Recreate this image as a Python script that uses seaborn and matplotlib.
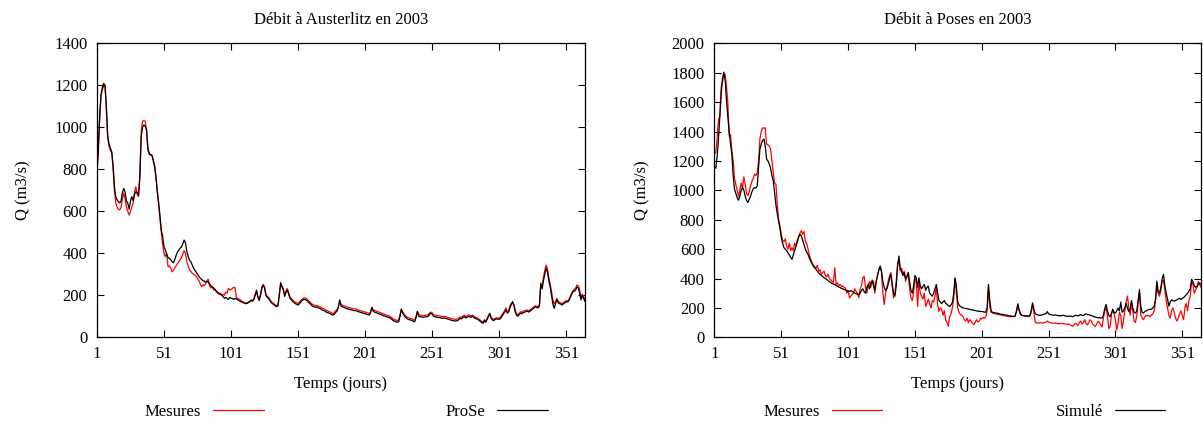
import numpy as np
import matplotlib
matplotlib.use("Agg")
import matplotlib.pyplot as plt
import seaborn as sns

# jours de l'année 2003
days = np.arange(1, 366)

# Austerlitz : débits mesurés (m3/s)
aus_mesures = [
    780, 880, 1040, 1150, 1180, 1195, 1200, 1090, 950, 910,
    890, 880, 810, 700, 640, 620, 610, 606, 620, 660,
    686, 660, 620, 600, 582, 600, 620, 640, 690, 717,
    680, 670, 780, 980, 1030, 1031, 1030, 980, 890, 870,
    868, 865, 845, 820, 770, 700, 640, 560, 500, 440,
    400, 384, 400, 336, 340, 330, 312, 320, 330, 340,
    350, 360, 369, 380, 395, 413, 400, 360, 340, 321,
    315, 305, 300, 297, 290, 280, 270, 255, 241, 250,
    245, 255, 270, 276, 245, 235, 240, 225, 228, 215,
    210, 205, 210, 200, 205, 200, 215, 210, 233, 225,
    228, 233, 238, 236, 190, 185, 182, 178, 172, 168,
    165, 162, 165, 168, 172, 178, 175, 182, 205, 225,
    195, 180, 205, 240, 252, 240, 205, 195, 190, 180,
    170, 165, 160, 155, 150, 155, 205, 262, 245, 230,
    200, 220, 232, 210, 192, 185, 178, 172, 167, 164,
    162, 168, 175, 182, 187, 188, 185, 180, 173, 168,
    160, 156, 153, 151, 152, 148, 146, 143, 138, 136,
    133, 128, 126, 123, 120, 116, 114, 118, 126, 133,
    148, 170, 158, 153, 150, 148, 146, 143, 141, 140,
    138, 136, 135, 135, 133, 130, 128, 126, 124, 122,
    120, 118, 116, 114, 120, 140, 132, 128, 126, 123,
    121, 118, 116, 113, 110, 108, 106, 104, 102, 98,
    93, 88, 84, 82, 80, 82, 105, 135, 122, 112,
    103, 98, 94, 92, 90, 88, 84, 82, 100, 125,
    108, 106, 105, 103, 104, 105, 106, 108, 115, 120,
    117, 108, 106, 104, 103, 102, 101, 100, 98, 100,
    98, 96, 94, 92, 90, 88, 87, 86, 86, 88,
    92, 97, 95, 102, 105, 99, 102, 107, 104, 102,
    106, 101, 96, 94, 91, 86, 81, 76, 73, 84,
    78, 90, 104, 112, 95, 88, 86, 90, 93, 92,
    92, 96, 106, 116, 126, 140, 122, 128, 150, 162,
    165, 155, 128, 112, 106, 115, 122, 118, 125, 127,
    128, 130, 126, 130, 136, 141, 146, 150, 148, 146,
    156, 250, 240, 285, 320, 344, 325, 285, 255, 220,
    180, 160, 170, 185, 172, 166, 163, 160, 165, 170,
    175, 172, 180, 195, 210, 222, 228, 235, 249, 245,
    225, 190, 205, 195, 180,
]

# Austerlitz : débits simulés par ProSe
aus_prose = [
    788, 900, 1050, 1154, 1190, 1209, 1200, 1100, 960, 920,
    900, 884, 820, 720, 670, 655, 645, 640, 650, 690,
    709, 690, 650, 638, 610, 650, 670, 650, 680, 693,
    690, 677, 760, 955, 1000, 1011, 1005, 990, 900, 876,
    870, 868, 840, 812, 760, 690, 638, 580, 511, 480,
    430, 416, 395, 380, 376, 370, 360, 355, 370, 390,
    405, 415, 424, 430, 445, 463, 450, 410, 385, 368,
    360, 345, 330, 320, 310, 300, 290, 282, 276, 270,
    268, 262, 265, 265, 255, 245, 240, 235, 228, 222,
    215, 210, 205, 200, 195, 186, 190, 185, 180, 190,
    186, 185, 180, 186, 182, 178, 175, 170, 168, 165,
    162, 160, 162, 165, 170, 175, 172, 180, 200, 222,
    190, 175, 200, 235, 249, 235, 200, 190, 185, 175,
    165, 160, 155, 150, 146, 150, 200, 257, 240, 225,
    195, 215, 225, 205, 185, 178, 170, 165, 160, 157,
    154, 160, 168, 175, 180, 180, 178, 172, 165, 160,
    152, 148, 145, 143, 145, 140, 138, 135, 130, 128,
    125, 120, 118, 115, 112, 108, 106, 110, 118, 125,
    140, 178, 150, 145, 143, 140, 138, 135, 133, 132,
    130, 128, 127, 127, 125, 122, 120, 118, 116, 114,
    112, 110, 108, 106, 115, 143, 125, 120, 118, 115,
    113, 110, 108, 105, 102, 100, 98, 96, 94, 90,
    85, 80, 76, 74, 72, 74, 100, 133, 115, 105,
    95, 90, 86, 84, 82, 80, 76, 74, 95, 122,
    100, 98, 97, 95, 96, 97, 98, 100, 108, 114,
    110, 100, 98, 96, 95, 94, 93, 92, 90, 92,
    90, 88, 86, 84, 82, 80, 79, 78, 78, 80,
    85, 90, 88, 95, 98, 92, 95, 100, 97, 95,
    100, 95, 90, 88, 85, 80, 75, 70, 67, 80,
    72, 85, 100, 114, 90, 82, 80, 85, 88, 86,
    86, 90, 100, 110, 120, 130, 115, 120, 140, 155,
    170, 150, 120, 105, 100, 110, 115, 112, 118, 120,
    122, 125, 120, 125, 130, 135, 140, 146, 142, 140,
    150, 257, 230, 270, 300, 330, 310, 270, 240, 200,
    160, 138, 160, 180, 165, 160, 158, 154, 160, 165,
    170, 168, 175, 190, 205, 217, 220, 225, 240, 235,
    210, 178, 200, 185, 170,
]

# Poses : débits mesurés
poses_mesures = [
    1247, 1260, 1350, 1480, 1500, 1700, 1735, 1780, 1790, 1700,
    1600, 1370, 1380, 1270, 1200, 1080, 1040, 1000, 960, 1000,
    1050, 1010, 1092, 1040, 980, 963, 990, 1030, 1060, 1080,
    1110, 1100, 1120, 1200, 1350, 1400, 1424, 1424, 1424, 1315,
    1310, 1300, 1280, 1200, 1120, 1050, 1040, 900, 800, 760,
    700, 660, 650, 670, 620, 600, 640, 590, 610, 590,
    640, 620, 660, 690, 710, 725, 700, 720, 650, 640,
    600, 560, 530, 510, 490, 480, 470, 490, 450, 460,
    430, 440, 450, 420, 410, 430, 400, 390, 380, 370,
    473, 360, 370, 350, 360, 345, 350, 340, 335, 300,
    320, 268, 280, 290, 300, 330, 310, 300, 270, 330,
    350, 405, 415, 340, 300, 350, 380, 340, 390, 382,
    300, 380, 420, 460, 480, 440, 300, 223, 300, 340,
    380, 420, 440, 350, 268, 300, 380, 500, 530, 450,
    470, 430, 450, 380, 420, 440, 330, 268, 250, 300,
    400, 380, 210, 380, 300, 280, 260, 300, 210, 230,
    260, 230, 200, 250, 240, 280, 340, 220, 177, 200,
    190, 150, 180, 120, 100, 75, 140, 160, 200, 260,
    400, 300, 200, 170, 155, 150, 140, 120, 110, 130,
    100, 120, 110, 95, 87, 100, 120, 105, 110, 130,
    125, 135, 130, 140, 180, 340, 210, 170, 165, 163,
    160, 158, 156, 155, 152, 150, 148, 146, 145, 143,
    142, 140, 140, 142, 140, 145, 175, 220, 180, 155,
    148, 146, 145, 144, 145, 140, 145, 170, 225, 175,
    100, 98, 97, 98, 100, 98, 97, 100, 105, 110,
    104, 100, 98, 96, 95, 97, 95, 93, 92, 94,
    95, 93, 92, 90, 88, 90, 85, 80, 75, 85,
    95, 90, 80, 100, 110, 90, 100, 120, 95, 85,
    100, 120, 110, 90, 80, 75, 90, 110, 100, 85,
    70, 130, 180, 200, 150, 60, 70, 150, 190, 160,
    120, 50, 100, 170, 150, 60, 110, 180, 240, 280,
    200, 150, 230, 180, 110, 100, 150, 230, 300, 150,
    130, 120, 140, 150, 145, 150, 140, 150, 160, 180,
    250, 350, 300, 280, 320, 380, 390, 320, 250, 200,
    150, 130, 180, 200, 170, 130, 110, 130, 160, 180,
    150, 120, 200, 230, 180, 250, 280, 380, 360, 300,
    320, 340, 380, 360, 340,
]

# Poses : débits simulés
poses_simule = [
    1156, 1150, 1230, 1350, 1497, 1650, 1760, 1804, 1750, 1611,
    1500, 1400, 1320, 1247, 1100, 1008, 980, 950, 933, 960,
    1000, 1019, 1000, 960, 930, 917, 940, 960, 990, 1010,
    1019, 1015, 1030, 1150, 1280, 1315, 1340, 1349, 1300, 1213,
    1200, 1180, 1150, 1100, 1065, 980, 900, 840, 792, 740,
    680, 640, 610, 600, 590, 575, 560, 545, 530, 560,
    590, 620, 650, 680, 701, 690, 660, 630, 600, 580,
    564, 540, 520, 500, 485, 473, 460, 448, 438, 428,
    420, 412, 405, 400, 393, 385, 378, 372, 366, 362,
    359, 352, 348, 342, 338, 333, 330, 325, 322, 318,
    315, 312, 318, 313, 305, 300, 296, 293, 291, 300,
    320, 330, 310, 300, 340, 360, 330, 370, 382, 350,
    320, 380, 420, 460, 485, 450, 380, 340, 320, 330,
    360, 400, 428, 360, 300, 280, 350, 480, 553, 470,
    450, 420, 440, 400, 410, 439, 380, 320, 300, 350,
    420, 405, 340, 405, 350, 330, 345, 360, 320, 340,
    348, 300, 290, 280, 300, 330, 359, 300, 250, 240,
    230, 240, 250, 230, 225, 215, 210, 220, 235, 300,
    405, 350, 240, 220, 210, 205, 200, 198, 196, 194,
    192, 190, 188, 186, 184, 182, 180, 178, 177, 176,
    175, 174, 172, 170, 200, 360, 250, 180, 170, 168,
    166, 165, 163, 160, 158, 156, 155, 153, 152, 150,
    148, 146, 145, 143, 142, 145, 180, 228, 185, 160,
    150, 148, 147, 146, 146, 145, 150, 180, 234, 190,
    160, 155, 152, 150, 150, 152, 155, 158, 160, 175,
    160, 155, 153, 152, 150, 152, 150, 148, 147, 145,
    148, 150, 147, 145, 143, 142, 145, 143, 140, 145,
    150, 148, 145, 150, 155, 150, 148, 155, 160, 155,
    155, 150, 148, 145, 140, 138, 135, 132, 135, 132,
    130, 150, 195, 223, 180, 150, 140, 160, 190, 170,
    165, 180, 200, 180, 240, 170, 180, 200, 230, 200,
    175, 190, 250, 200, 170, 165, 180, 250, 325, 210,
    170, 165, 175, 180, 185, 189, 190, 192, 200, 210,
    260, 382, 310, 300, 340, 400, 428, 350, 300, 260,
    212, 240, 255, 250, 246, 250, 255, 260, 265, 258,
    265, 270, 280, 290, 300, 314, 330, 394, 380, 350,
    340, 345, 360, 370, 360,
]

x_ticks = [1, 51, 101, 151, 201, 251, 301, 351]

sns.set_style("ticks", {"axes.edgecolor": "black", "text.color": "black",
                        "xtick.color": "black", "ytick.color": "black",
                        "axes.labelcolor": "black"})
plt.rcParams["font.family"] = ["Liberation Serif", "DejaVu Serif"]
plt.rcParams["font.size"] = 12

fig = plt.figure(figsize=(12.03, 4.21), dpi=100)
ax1 = fig.add_axes([0.0806, 0.1988, 0.4057, 0.6983])
ax2 = fig.add_axes([0.5939, 0.1988, 0.4044, 0.6983])

panels = [
    (ax1, aus_mesures, aus_prose, "ProSe", "Débit à Austerlitz en 2003", 1400, 0.511, 10.9, 16),
    (ax2, poses_mesures, poses_simule, "Simulé", "Débit à Poses en 2003", 2000, 0.514, 10.4, 15),
]

for ax, mes, sim, sim_label, title, ymax, leg_x, colsp, ylpad in panels:
    sns.lineplot(x=days, y=mes, ax=ax, color="red", linewidth=0.9, label="Mesures")
    sns.lineplot(x=days, y=sim, ax=ax, color="black", linewidth=0.9, label=sim_label)
    ax.set_xlim(1, 365)
    ax.set_ylim(0, ymax)
    ax.set_xticks(x_ticks)
    ax.set_yticks(range(0, ymax + 1, 200))
    ax.tick_params(axis="both", direction="in", top=True, right=True,
                   length=5, width=0.8, labelsize=12)
    ax.tick_params(axis="x", pad=6)
    ax.tick_params(axis="y", pad=7)
    for sp in ax.spines.values():
        sp.set_linewidth(0.9)
        sp.set_color("black")
    ax.set_title(title, fontsize=12, pad=14)
    ax.set_xlabel("Temps (jours)", fontsize=12, labelpad=10)
    ax.set_ylabel("Q (m3/s)", fontsize=12, labelpad=ylpad)
    ax.legend(loc="center", bbox_to_anchor=(leg_x, -0.255), ncol=2,
              frameon=False, markerfirst=False, fontsize=12,
              handlelength=3.05, handletextpad=0.7, columnspacing=colsp)

fig.savefig("out.png", dpi=100)
plt.close(fig)
